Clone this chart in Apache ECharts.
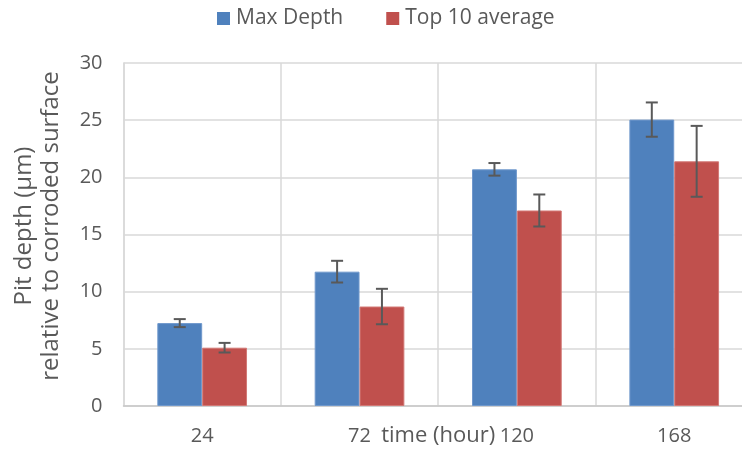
<!DOCTYPE html>
<html>
<head>
<meta charset="utf-8">
<script src="https://cdn.jsdelivr.net/npm/echarts@6/dist/echarts.min.js"></script>
<style>
  html, body { margin: 0; padding: 0; background: #ffffff; }
  #chart { width: 742px; height: 454px; }
</style>
</head>
<body>
<div id="chart"></div>
<script>
// Exposure time categories (hours)
const categories = ['24', '72', '120', '168'];

// Maximum pit depth and its error (µm)
const maxDepth = [7.25, 11.75, 20.7, 25.05];
const maxDepthErr = [0.35, 0.95, 0.55, 1.5];

// Average of the ten deepest pits and its error (µm)
const top10Avg = [5.1, 8.7, 17.1, 21.4];
const top10Err = [0.42, 1.55, 1.4, 3.1];

// Y axis range
const yMin = 0, yMax = 30, yStep = 5;

const FONT = 'Open Sans';
const TEXT = '#595959';
const CAT_GAP = 0.43;

// Error whiskers drawn over each bar of a series; side = -1 left bar, +1 right bar
function errorSeries(name, values, errs, side) {
  return {
    type: 'custom',
    name: name,
    z: 10,
    silent: true,
    data: values.map((v, i) => [i, v - errs[i], v + errs[i]]),
    encode: { x: 0, y: [1, 2] },
    renderItem: function (params, api) {
      const idx = api.value(0);
      const lo = api.coord([idx, api.value(1)]);
      const hi = api.coord([idx, api.value(2)]);
      const band = api.size([1, 0])[0];
      const barW = band * (1 - CAT_GAP) / 2;
      const cx = lo[0] + side * barW / 2;
      const half = 6;
      const style = { stroke: '#595959', lineWidth: 2 };
      return {
        type: 'group',
        children: [
          { type: 'line', shape: { x1: cx, y1: hi[1], x2: cx, y2: lo[1] }, style: style },
          { type: 'line', shape: { x1: cx - half, y1: hi[1], x2: cx + half, y2: hi[1] }, style: style },
          { type: 'line', shape: { x1: cx - half, y1: lo[1], x2: cx + half, y2: lo[1] }, style: style }
        ]
      };
    }
  };
}

const chart = echarts.init(document.getElementById('chart'), null, { renderer: 'canvas' });

chart.setOption({
  animation: false,
  backgroundColor: '#ffffff',
  textStyle: { fontFamily: FONT, color: TEXT },
  legend: {
    data: ['Max Depth', 'Top 10 average'],
    left: 217,
    top: 8,
    padding: 0,
    itemWidth: 13,
    itemHeight: 13,
    itemGap: 43,
    icon: 'rect',
    itemStyle: { borderWidth: 0 },
    textStyle: { fontFamily: FONT, fontSize: 21, color: TEXT, padding: [0, 0, 0, 1] }
  },
  grid: {
    left: 123.5, top: 63, width: 629.4, height: 343,
    containLabel: false,
    outerBoundsMode: 'none'
  },
  xAxis: {
    type: 'category',
    data: categories,
    name: 'time (hour)',
    nameLocation: 'middle',
    nameGap: 19,
    nameMoveOverlap: false,
    nameTextStyle: { fontFamily: FONT, fontSize: 22, color: TEXT, verticalAlign: 'top' },
    axisTick: { show: false },
    axisLine: { lineStyle: { color: '#c8c8c8', width: 1.5 } },
    axisLabel: { fontFamily: FONT, fontSize: 20, color: TEXT, margin: 20 },
    splitLine: { show: true, lineStyle: { color: '#d9d9d9', width: 1.5 } }
  },
  yAxis: {
    type: 'value',
    min: yMin,
    max: yMax,
    interval: yStep,
    axisLine: { show: true, lineStyle: { color: '#d9d9d9', width: 1.5 } },
    axisTick: { show: false },
    axisLabel: { fontFamily: FONT, fontSize: 20, color: TEXT, margin: 21 },
    splitLine: { show: true, lineStyle: { color: '#d9d9d9', width: 1.5 } }
  },
  graphic: [{
    type: 'text',
    x: 38,
    y: 226,
    rotation: Math.PI / 2,
    style: {
      text: 'Pit depth (μm)\nrelative to corroded surface',
      font: '24px "Open Sans"',
      fill: TEXT,
      align: 'center',
      verticalAlign: 'middle',
      lineHeight: 27
    }
  }],
  series: [
    {
      name: 'Max Depth',
      type: 'bar',
      data: maxDepth,
      barGap: '0%',
      barCategoryGap: (CAT_GAP * 100) + '%',
      itemStyle: { color: '#4f81bd', borderColor: '#6f98cc', borderWidth: 1 }
    },
    {
      name: 'Top 10 average',
      type: 'bar',
      data: top10Avg,
      barGap: '0%',
      barCategoryGap: (CAT_GAP * 100) + '%',
      itemStyle: { color: '#c0504d', borderColor: '#d27875', borderWidth: 1 }
    },
    errorSeries('Max Depth error', maxDepth, maxDepthErr, -1),
    errorSeries('Top 10 average error', top10Avg, top10Err, 1)
  ]
});
</script>
</body>
</html>
